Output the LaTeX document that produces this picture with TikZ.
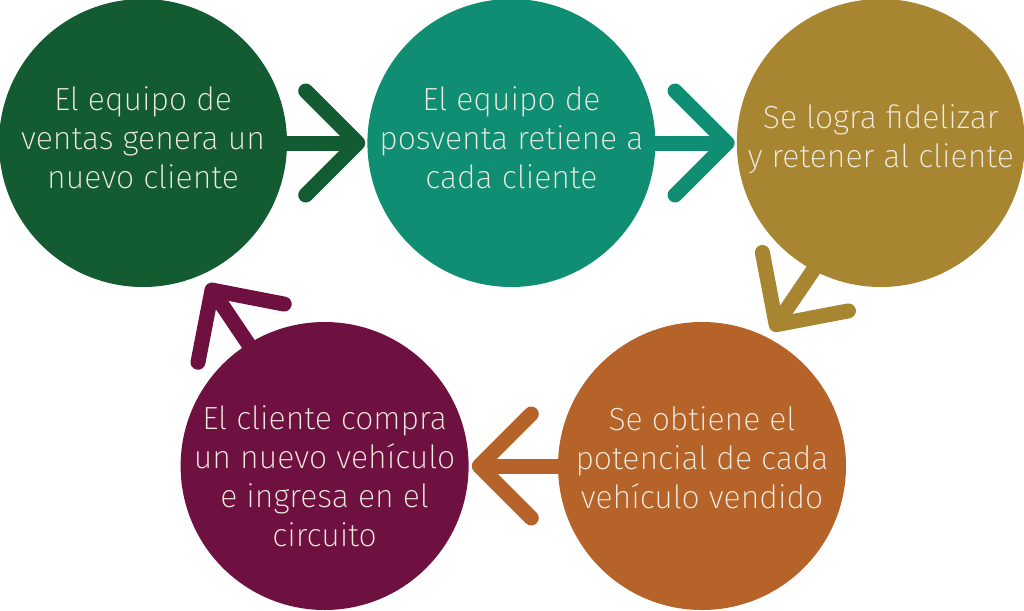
\documentclass[tikz,border=0pt]{standalone}
\usepackage{fontspec}
\setmainfont{Fira Sans}[UprightFont={* ExtraLight}]
\usetikzlibrary{positioning,arrows.meta}
\definecolor{verde}{RGB}{19,91,49}
\definecolor{turquesa}{RGB}{16,142,115}
\definecolor{ocre}{RGB}{167,133,49}
\definecolor{naranja}{RGB}{181,99,40}
\definecolor{granate}{RGB}{111,17,64}
\definecolor{texto}{RGB}{240,236,225}

\begin{document}
\begin{tikzpicture}[
        x=1pt, y=-1pt,
        node distance=80pt,
        paso/.style={circle, fill=#1, minimum size=288pt, inner sep=0pt},
        rotulo/.style={align=center, text=texto, font=\fontsize{32}{39}\selectfont},
        flecha/.style={draw=#1, line width=15pt, line cap=round, -{Straight Barb[length={52pt 0}, width={104pt 0}, round]}}
    ]
        \useasboundingbox (0,0) rectangle (1024,610);
        \node[paso=verde] (p1) at (143,143) {};
        \node[paso=turquesa, right=of p1] (p2) {};
        \node[paso=ocre, right=81pt of p2] (p3) {};
        \node[paso=naranja] (p4) at (702,466) {};
        \node[paso=granate, left=89pt of p4] (p5) {};
        \node[rotulo] (t1) at ([yshift=5pt]p1.center) {El equipo de\\ventas genera un\\nuevo cliente};
        \node[rotulo] (t2) at ([yshift=5pt]p2.center) {El equipo de\\posventa retiene a\\cada cliente};
        \node[rotulo] (t3) at ([yshift=4pt]p3.center) {Se logra fidelizar\\y retener al cliente};
        \node[rotulo] (t4) at ([yshift=8pt]p4.center) {Se obtiene el\\potencial de cada\\vehículo vendido};
        \node[rotulo] (t5) at ([yshift=-10pt]p5.center) {El cliente compra\\un nuevo vehículo\\e ingresa en el\\circuito};
        \draw[flecha=verde, shorten >=2pt] (p1) -- (p2);
        \draw[flecha=turquesa, shorten >=2pt] (p2) -- (p3);
        \draw[flecha=ocre, shorten >=8pt] (p3.242) -- (p4.63);
        \draw[flecha=naranja, shorten >=3pt] (p4) -- (p5);
        \draw[flecha=granate, shorten >=11pt] (p5.122) -- (p1.294);
    \end{tikzpicture}
\end{document}
